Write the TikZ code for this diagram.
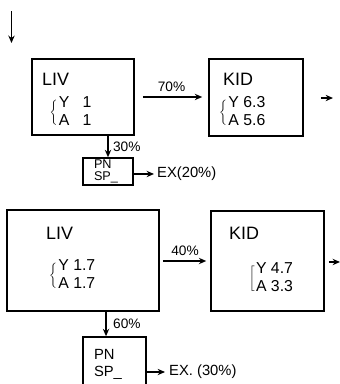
\documentclass[tikz,border=0pt]{standalone}
\usepackage{fontspec}
\setmainfont{Liberation Sans}
\usetikzlibrary{arrows.meta}

\newcommand{\doselist}[3]{$\left#1\vcenter{\hbox{\rule{0pt}{0.85cm}}}\right.\!\begin{tabular}{@{}l@{}}#2\\#3\end{tabular}$}

\tikzset{
  organ/.style={draw, line width=1.5pt, inner sep=0pt},
  pool/.style={draw, line width=1.5pt, inner xsep=0.367cm, inner ysep=0pt, align=left},
  organname/.style={anchor=west, inner sep=0pt, font=\fontsize{17}{20}\selectfont},
  dose/.style={anchor=west, inner sep=0pt, font=\fontsize{15}{17}\selectfont},
  pct/.style={inner sep=1pt, font=\fontsize{13}{15}\selectfont},
  exlbl/.style={anchor=west, inner sep=0pt, font=\fontsize{14}{16}\selectfont},
  flow/.style={line width=1.5pt, -{Stealth[length=7pt,width=6pt]}}
}

\begin{document}
\begin{tikzpicture}
\useasboundingbox (0,0) rectangle (11.333,-12.800);
\clip (0,0) rectangle (11.333,-12.800);
% input
\coordinate (in1) at (0.383,-0.367);
\coordinate (in2) at (0.383,-1.433);
\draw[flow] (in1) -- (in2);

% upper row
\node[organ, minimum width=3.400cm, minimum height=2.533cm] (liv1) at (2.767,-3.233) {};
\node[organname] (livname1) at (1.400,-2.633) {LIV};
\node[dose] (livdose1) at (1.650,-3.750) {\doselist{\{}{Y\ \ \ 1}{A\ \ \ 1}};
\node[organ, minimum width=3.133cm, minimum height=2.567cm] (kid1) at (8.533,-3.250) {};
\node[organname] (kidname1) at (7.433,-2.633) {KID};
\node[dose] (kiddose1) at (7.300,-3.767) {\doselist{\{}{Y 6.3}{A 5.6}};
\node[pool, text width=0.933cm, minimum height=0.900cm,
  font=\fontsize{12}{11}\selectfont] (pn1) at (3.600,-5.717) {PN\\SP\_};
\node[exlbl] (ex1) at (5.233,-5.800) {EX(20\%)};
\coordinate (out1) at (11.100,-3.267);

\draw[flow, shorten <=0.267cm, shorten >=0.200cm] (liv1.east) -- (kid1.west |- liv1.east)
  node[pct, midway, above=3pt] {70\%};
\draw[flow, shorten <=0.567cm] (kid1.east |- out1) -- (out1);
\draw[flow] (pn1.north |- liv1.south) -- (pn1.north)
  node[pct, midway, right=3pt] {30\%};
\draw[flow, shorten >=0.100cm] (ex1.west -| pn1.east) -- (ex1.west);

% lower row
\node[organ, minimum width=5.067cm, minimum height=3.367cm] (liv2) at (2.767,-8.683) {};
\node[organname] (livname2) at (1.533,-7.767) {LIV};
\node[dose] (livdose2) at (1.633,-9.200) {\doselist{\{}{Y 1.7}{A 1.7}};
\node[organ, minimum width=3.767cm, minimum height=3.333cm] (kid2) at (8.917,-8.700) {};
\node[organname] (kidname2) at (7.633,-7.767) {KID};
\node[dose] (kiddose2) at (8.300,-9.300) {\doselist{[}{Y 4.7}{A 3.3}};
\node[pool, text width=1.367cm, minimum height=1.800cm,
  font=\fontsize{14}{16}\selectfont] (pn2) at (3.817,-12.133) {PN\\SP\_};
\node[exlbl] (ex2) at (5.633,-12.400) {EX. (30\%)};
\coordinate (out2) at (11.333,-8.733);

\draw[flow, shorten <=0.100cm, shorten >=0.133cm] (liv2.east |- kid2.west) -- (kid2.west)
  node[pct, midway, above=3pt] {40\%};
\draw[flow, shorten <=0.133cm] (kid2.east |- out2) -- (out2);
\draw[flow] ([xshift=-0.283cm]pn2.north |- liv2.south) -- ([xshift=-0.283cm]pn2.north)
  node[pct, midway, right=5pt] {60\%};
\draw[flow, shorten >=0.133cm] (ex2.west -| pn2.east) -- (ex2.west);
\end{tikzpicture}
\end{document}
